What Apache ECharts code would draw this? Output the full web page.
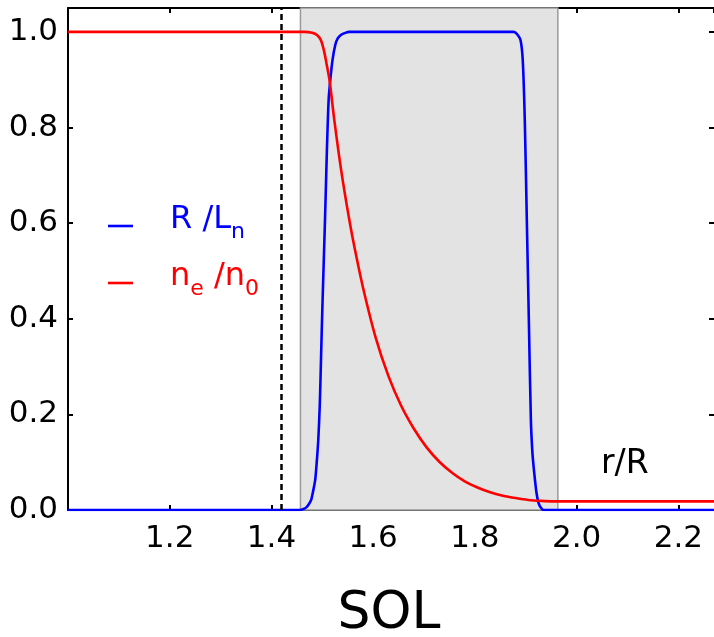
<!DOCTYPE html>
<html>
<head>
<meta charset="utf-8">
<script src="https://cdn.jsdelivr.net/npm/echarts@6/dist/echarts.min.js"></script>
<style>html,body{margin:0;padding:0;background:#fff;}#c{width:714px;height:637px;}</style>
</head>
<body>
<div id="c"></div>
<script>
// x = r/R, y = normalised value
const xRange = [1.0, 2.27];
const yRange = [0, 1.05];
const xTickStep = 0.2;
const yTickStep = 0.2;
const separatrixX = 1.4157;
const shadeRange = [1.457, 1.963];

const blueX = [1.0, 1.455, 1.463, 1.469, 1.474, 1.478, 1.482, 1.486, 1.489, 1.492, 1.495, 1.4975, 1.5, 1.5025, 1.5045, 1.5065, 1.509, 1.5124, 1.5157, 1.520, 1.5255, 1.530, 1.537, 1.545, 1.553, 1.8765, 1.883, 1.8896, 1.894, 1.898, 1.902, 1.906, 1.910, 1.913, 1.916, 1.921, 1.925, 1.929, 1.935, 2.3];
const blueY = [0, 0, 0.002, 0.006, 0.013, 0.021, 0.04, 0.063, 0.1, 0.146, 0.22, 0.32, 0.42, 0.51, 0.58, 0.655, 0.753, 0.858, 0.9, 0.941, 0.973, 0.986, 0.994, 0.998, 1.0, 1.0, 0.995, 0.983, 0.941, 0.816, 0.607, 0.397, 0.188, 0.12, 0.084, 0.036, 0.015, 0.006, 0, 0];

const redX = [1.0, 1.465, 1.48, 1.49, 1.497, 1.503, 1.508, 1.514, 1.5235, 1.537, 1.553, 1.565, 1.58, 1.605, 1.63, 1.655, 1.68, 1.705, 1.73, 1.755, 1.78, 1.805, 1.83, 1.855, 1.88, 1.905, 1.93, 1.955, 2.3];
const redY = [1, 1, 0.998, 0.993, 0.983, 0.962, 0.935, 0.9, 0.816, 0.711, 0.607, 0.54, 0.465, 0.36, 0.28, 0.218, 0.17, 0.131, 0.101, 0.078, 0.06, 0.047, 0.037, 0.03, 0.025, 0.021, 0.019, 0.018, 0.018];

const legendNames = ['{m|R /L}{s|n}', '{m|n}{s|e}{m| /n}{s|0}'];
const xLabelText = 'SOL';
const annotText = 'r/R';

const FONT = 'DejaVu Sans';
const zip = (a, b) => a.map((v, i) => [v, b[i]]);

const chart = echarts.init(document.getElementById('c'), null, {renderer: 'canvas'});

const tickFmt = (v) => {
  const k = Math.round(v / xTickStep);
  if (Math.abs(v - k * xTickStep) > 1e-6) return '';
  if (Math.abs(v - xRange[0]) < 1e-6) return '';
  return v.toFixed(1);
};

const richLegend = (color) => ({
  m: {fontSize: 32, fontFamily: FONT, fill: color, lineHeight: 46, verticalAlign: 'middle'},
  s: {fontSize: 22, fontFamily: FONT, fill: color, lineHeight: 46, verticalAlign: 'bottom', padding: [13, 0, 0, 0]}
});

chart.setOption({
  animation: false,
  grid: {left: 68, right: 0, top: 8, bottom: 127},
  xAxis: [{
    type: 'value', min: xRange[0], max: xRange[1], interval: xTickStep,
    axisLine: {onZero: false, lineStyle: {color: '#000', width: 2}},
    axisTick: {inside: true, length: 5, lineStyle: {color: '#000', width: 2}},
    axisLabel: {formatter: tickFmt, fontSize: 31, fontFamily: FONT, color: '#000', margin: 13, showMaxLabel: false},
    splitLine: {show: false}
  }, {
    type: 'value', position: 'top', min: xRange[0], max: xRange[1], interval: xTickStep,
    axisLine: {onZero: false, lineStyle: {color: '#000', width: 2}},
    axisTick: {inside: true, length: 5, lineStyle: {color: '#000', width: 2}},
    axisLabel: {show: false}, splitLine: {show: false}
  }],
  yAxis: [{
    type: 'value', min: yRange[0], max: yRange[1], interval: yTickStep,
    axisLine: {show: true, onZero: false, lineStyle: {color: '#000', width: 2}},
    axisTick: {inside: true, length: 5, lineStyle: {color: '#000', width: 2}},
    axisLabel: {formatter: (v) => (v > 1.001 ? '' : v.toFixed(1)), fontSize: 31, fontFamily: FONT, color: '#000', margin: 10, showMaxLabel: false},
    splitLine: {show: false}
  }, {
    type: 'value', position: 'right', min: yRange[0], max: yRange[1], interval: yTickStep,
    axisLine: {show: false, onZero: false},
    axisTick: {show: true, inside: true, length: 5, lineStyle: {color: '#000', width: 2}},
    axisLabel: {show: false}, splitLine: {show: false}
  }],
  series: [{
    type: 'line', data: [], z: 1,
    markArea: {
      silent: true,
      itemStyle: {color: '#e3e3e3', borderColor: '#9a9a9a', borderWidth: 1.5},
      data: [[{xAxis: shadeRange[0]}, {xAxis: shadeRange[1]}]]
    }
  }, {
    name: 'R/Ln', type: 'line', data: zip(blueX, blueY), showSymbol: false, smooth: 0.25, z: 3,
    lineStyle: {color: '#0000ff', width: 2.6}, itemStyle: {color: '#0000ff'}
  }, {
    name: 'ne/n0', type: 'line', data: zip(redX, redY), showSymbol: false, smooth: 0.3, z: 4,
    lineStyle: {color: '#ff0000', width: 2.6}, itemStyle: {color: '#ff0000'},
    markLine: {
      silent: true, symbol: 'none', label: {show: false},
      lineStyle: {color: '#000', width: 2.5, type: [6, 4]},
      data: [{xAxis: separatrixX}]
    }
  }],
  graphic: [
    {type: 'line', shape: {x1: 108, y1: 226, x2: 133, y2: 226}, style: {stroke: '#0000ff', lineWidth: 2.6}},
    {type: 'line', shape: {x1: 108, y1: 283, x2: 133, y2: 283}, style: {stroke: '#ff0000', lineWidth: 2.6}},
    {type: 'text', left: 170, top: 204, style: {text: legendNames[0], rich: richLegend('#0000ff')}},
    {type: 'text', left: 170, top: 261, style: {text: legendNames[1], rich: richLegend('#ff0000')}},
    {type: 'text', left: 601, top: 448, style: {text: annotText, fontSize: 33, fontFamily: FONT, fill: '#000'}},
    {type: 'text', x: 389, y: 614, style: {text: xLabelText, fontSize: 52, fontFamily: FONT, fill: '#000', textAlign: 'center', textVerticalAlign: 'middle'}}
  ]
});
</script>
</body>
</html>
